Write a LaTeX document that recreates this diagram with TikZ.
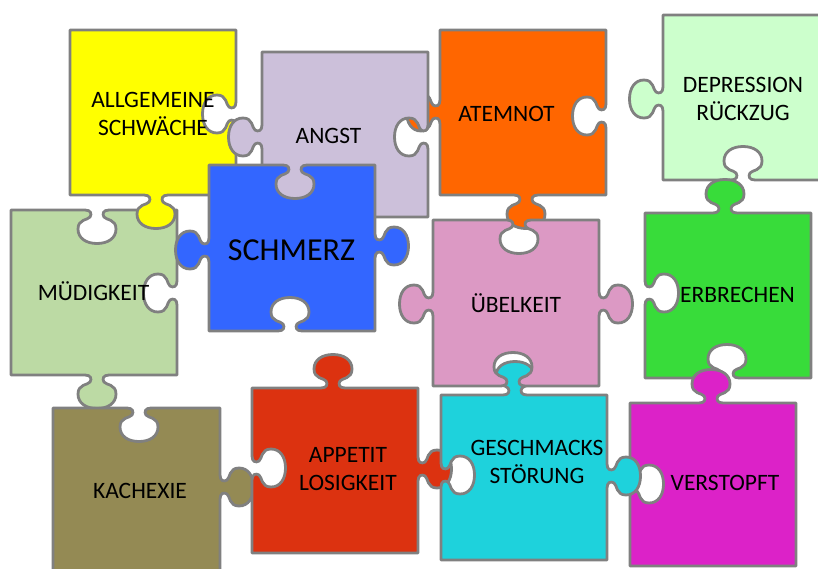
\documentclass[tikz,border=0pt]{standalone}
\usepackage{fontspec}
\setmainfont{Carlito}
\definecolor{edgegray}{HTML}{808080}
\definecolor{cMued}{HTML}{BCDAA4}
\definecolor{cYel}{HTML}{FFFF00}
\definecolor{cAtem}{HTML}{FF6600}
\definecolor{cAng}{HTML}{CCC0DA}
\definecolor{cSch}{HTML}{3366FF}
\definecolor{cDep}{HTML}{CCFFCC}
\definecolor{cErb}{HTML}{38DC3A}
\definecolor{cVer}{HTML}{DC22C8}
\definecolor{cKach}{HTML}{948A54}
\definecolor{cApp}{HTML}{DC3210}
\definecolor{cGes}{HTML}{1ED2DC}
\definecolor{cUeb}{HTML}{DC99C4}
\tikzset{kn/.style n args={5}{insert path={
 -- ({#1-12*(#3)},{#2-12*(#4)})
 .. controls ({#1-6*(#3)},{#2-6*(#4)}) and ({#1-5*(#3)+4*(#5)*(#4)},{#2-5*(#4)-4*(#5)*(#3)})
 .. ({#1-7*(#3)+7*(#5)*(#4)},{#2-7*(#4)-7*(#5)*(#3)})
 .. controls ({#1-9*(#3)+10*(#5)*(#4)},{#2-9*(#4)-10*(#5)*(#3)}) and ({#1-19*(#3)+9*(#5)*(#4)},{#2-19*(#4)-9*(#5)*(#3)})
 .. ({#1-19*(#3)+19*(#5)*(#4)},{#2-19*(#4)-19*(#5)*(#3)})
 .. controls ({#1-19*(#3)+28.5*(#5)*(#4)},{#2-19*(#4)-28.5*(#5)*(#3)}) and ({#1-10.5*(#3)+33.5*(#5)*(#4)},{#2-10.5*(#4)-33.5*(#5)*(#3)})
 .. ({#1+33.5*(#5)*(#4)},{#2-33.5*(#5)*(#3)})
 .. controls ({#1+10.5*(#3)+33.5*(#5)*(#4)},{#2+10.5*(#4)-33.5*(#5)*(#3)}) and ({#1+19*(#3)+28.5*(#5)*(#4)},{#2+19*(#4)-28.5*(#5)*(#3)})
 .. ({#1+19*(#3)+19*(#5)*(#4)},{#2+19*(#4)-19*(#5)*(#3)})
 .. controls ({#1+19*(#3)+9*(#5)*(#4)},{#2+19*(#4)-9*(#5)*(#3)}) and ({#1+9*(#3)+10*(#5)*(#4)},{#2+9*(#4)-10*(#5)*(#3)})
 .. ({#1+7*(#3)+7*(#5)*(#4)},{#2+7*(#4)-7*(#5)*(#3)})
 .. controls ({#1+5*(#3)+4*(#5)*(#4)},{#2+5*(#4)-4*(#5)*(#3)}) and ({#1+6*(#3)},{#2+6*(#4)})
 .. ({#1+12*(#3)},{#2+12*(#4)})
}}}
\begin{document}
\begin{tikzpicture}[x=1pt,y=-1pt,
  piece/.style={draw=edgegray, line width=2.8pt, line join=round},
  lbl/.style={font=\fontsize{23.5}{28}\selectfont, align=center, inner sep=0pt},
  lblone/.style={font=\fontsize{23.5}{28}\selectfont, inner sep=0pt, anchor=base}]
\clip (0,0) rectangle (818,568);
\fill[white] (0,0) rectangle (818,568);
% MUEDIGKEIT
\path[piece, fill=cMued] (11,210) [kn={97}{210}{1}{0}{-1}] -- (177,210) [kn={177}{293}{0}{1}{-1}] -- (177,375) [kn={97}{375}{-1}{0}{1}] -- (11,375) -- cycle;
% ALLGEMEINE
\path[piece, fill=cYel] (70,30) -- (236,30) [kn={236}{114}{0}{1}{-1}] -- (236,195) [kn={156}{195}{-1}{0}{1}] -- (70,195) -- cycle;
% ATEMNOT
\path[piece, fill=cAtem] (440,30) -- (606,30) [kn={606}{116}{0}{1}{-1}] -- (606,195) [kn={526}{195}{-1}{0}{1}] -- (440,195) [kn={440}{112}{0}{-1}{1}] -- cycle;
% ANGST
\path[piece, fill=cAng] (262,52) -- (428,52) [kn={428}{137}{0}{1}{-1}] -- (428,217) -- (262,217) [kn={262}{137}{0}{-1}{1}] -- cycle;
% SCHMERZ
\path[piece, fill=cSch] (209,165) [kn={295}{165}{1}{0}{-1}] -- (375,165) [kn={375}{246}{0}{1}{1}] -- (375,331) [kn={290}{331}{-1}{0}{-1}] -- (209,331) [kn={209}{250}{0}{-1}{1}] -- cycle;
% DEPRESSION
\path[piece, fill=cDep] (663,15) -- (829,15) -- (829,180) [kn={743}{180}{-1}{0}{-1}] -- (663,180) [kn={663}{99}{0}{-1}{1}] -- cycle;
% ERBRECHEN
\path[piece, fill=cErb] (645,213) [kn={725}{213}{1}{0}{1}] -- (811,213) -- (811,378) [kn={727}{378}{-1}{0}{-1}] -- (645,378) [kn={645}{293}{0}{-1}{-1}] -- cycle;
% VERSTOPFT
\path[piece, fill=cVer] (630,403) [kn={711}{403}{1}{0}{1}] -- (796,403) -- (796,566) -- (630,566) [kn={630}{484}{0}{-1}{-1}] -- cycle;
% KACHEXIE
\path[piece, fill=cKach] (53,408) [kn={139}{408}{1}{0}{-1}] -- (220,408) [kn={220}{487}{0}{1}{1}] -- (220,580) -- (53,580) -- cycle;
% APPETIT
\path[piece, fill=cApp] (252,388) [kn={333}{388}{1}{0}{1}] -- (418,388) [kn={418}{469}{0}{1}{1}] -- (418,553) -- (252,553) [kn={252}{468}{0}{-1}{-1}] -- cycle;
% GESCHMACKS
\path[piece, fill=cGes] (441,395) [kn={515}{395}{1}{0}{1}] -- (607,395) [kn={607}{476}{0}{1}{1}] -- (607,560) -- (441,560) [kn={441}{475}{0}{-1}{-1}] -- cycle;
% UEBELKEIT
\path[piece, fill=cUeb] (433,220) [kn={519}{220}{1}{0}{-1}] -- (599,220) [kn={599}{304}{0}{1}{1}] -- (599,386) [kn={513}{386}{-1}{0}{-1}] -- (433,386) [kn={433}{304}{0}{-1}{1}] -- cycle;
% labels
\node[lbl] (tallg) at (153,113.5) {ALLGEMEINE\\SCHWÄCHE};
\node[lblone] (tangst) at (328.5,143) {ANGST};
\node[lblone] (tatem) at (506.5,121) {ATEMNOT};
\node[lbl] (tdep) at (743,98.5) {DEPRESSION\\RÜCKZUG};
\node[lblone, font=\fontsize{32}{38}\selectfont] (tschm) at (291.5,260) {SCHMERZ};
\node[lblone] (tmued) at (93.5,300) {MÜDIGKEIT};
\node[lblone] (tuebel) at (516,312) {ÜBELKEIT};
\node[lblone] (terb) at (737.5,302) {ERBRECHEN};
\node[lblone] (tkach) at (140,498) {KACHEXIE};
\node[lbl] (tapp) at (348,469) {APPETIT\\LOSIGKEIT};
\node[lbl] (tges) at (537,461.5) {GESCHMACKS\\STÖRUNG};
\node[lblone] (tver) at (725,490) {VERSTOPFT};
\end{tikzpicture}
\end{document}
